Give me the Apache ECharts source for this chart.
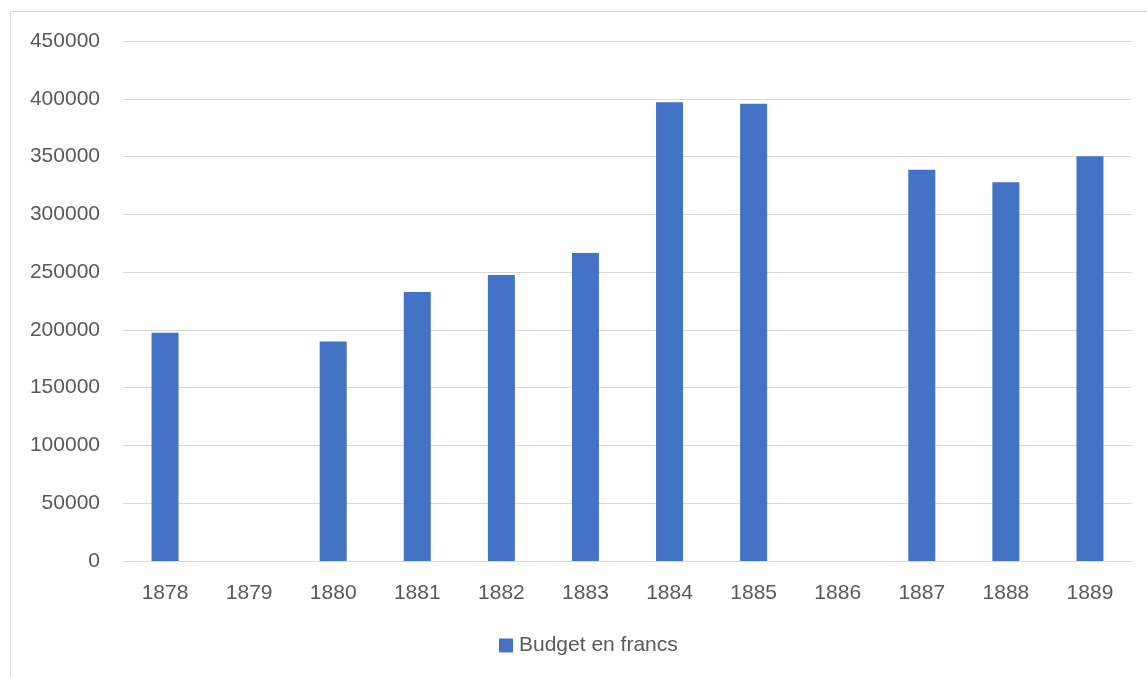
<!DOCTYPE html>
<html>
<head>
<meta charset="utf-8">
<title>Budget en francs</title>
<script src="https://cdn.jsdelivr.net/npm/echarts@6/dist/echarts.min.js"></script>
<style>
html, body { margin: 0; padding: 0; background: #fff; }
#main { width: 1147px; height: 677px; }
</style>
</head>
<body>
<div id="main"></div>
<script>
// donnees
var years = ['1878','1879','1880','1881','1882','1883','1884','1885','1886','1887','1888','1889'];
var budget = [197500, null, 190000, 232800, 247600, 266600, 397100, 395800, null, 338500, 327800, 350300];
var seriesName = 'Budget en francs';

var myChart = echarts.init(document.getElementById('main'));

option = {
    animation: false,
    textStyle: {
        fontFamily: 'Liberation Sans, Arial, sans-serif'
    },
    graphic: [
        {
            type: 'rect',
            shape: { x: 10.5, y: 11.5, width: 1200, height: 700 },
            style: { fill: 'none', stroke: '#d9d9d9', lineWidth: 1 },
            silent: true
        }
    ],
    legend: {
        bottom: 16,
        left: 494,
        itemWidth: 14,
        itemHeight: 14,
        icon: 'rect',
        textStyle: { color: '#595959', fontSize: 21, padding: [0, 0, 0, 1] },
        data: [seriesName]
    },
    grid: {
        left: 123,
        right: 15,
        top: 41,
        bottom: 116
    },
    xAxis: {
        type: 'category',
        data: years,
        axisLine: { lineStyle: { color: '#d9d9d9', width: 1 } },
        axisTick: { show: false },
        axisLabel: { color: '#595959', fontSize: 21, margin: 22 }
    },
    yAxis: {
        type: 'value',
        min: 0,
        max: 450000,
        interval: 50000,
        axisLine: { show: false },
        axisTick: { show: false },
        axisLabel: {
            color: '#595959',
            fontSize: 21,
            margin: 23,
            formatter: function (v) { return String(v); }
        },
        splitLine: { lineStyle: { color: '#d9d9d9', width: 1 } }
    },
    series: [
        {
            name: seriesName,
            type: 'bar',
            barWidth: 27,
            itemStyle: { color: '#4472c4' },
            data: budget
        }
    ]
};

myChart.setOption(option);
</script>
</body>
</html>
